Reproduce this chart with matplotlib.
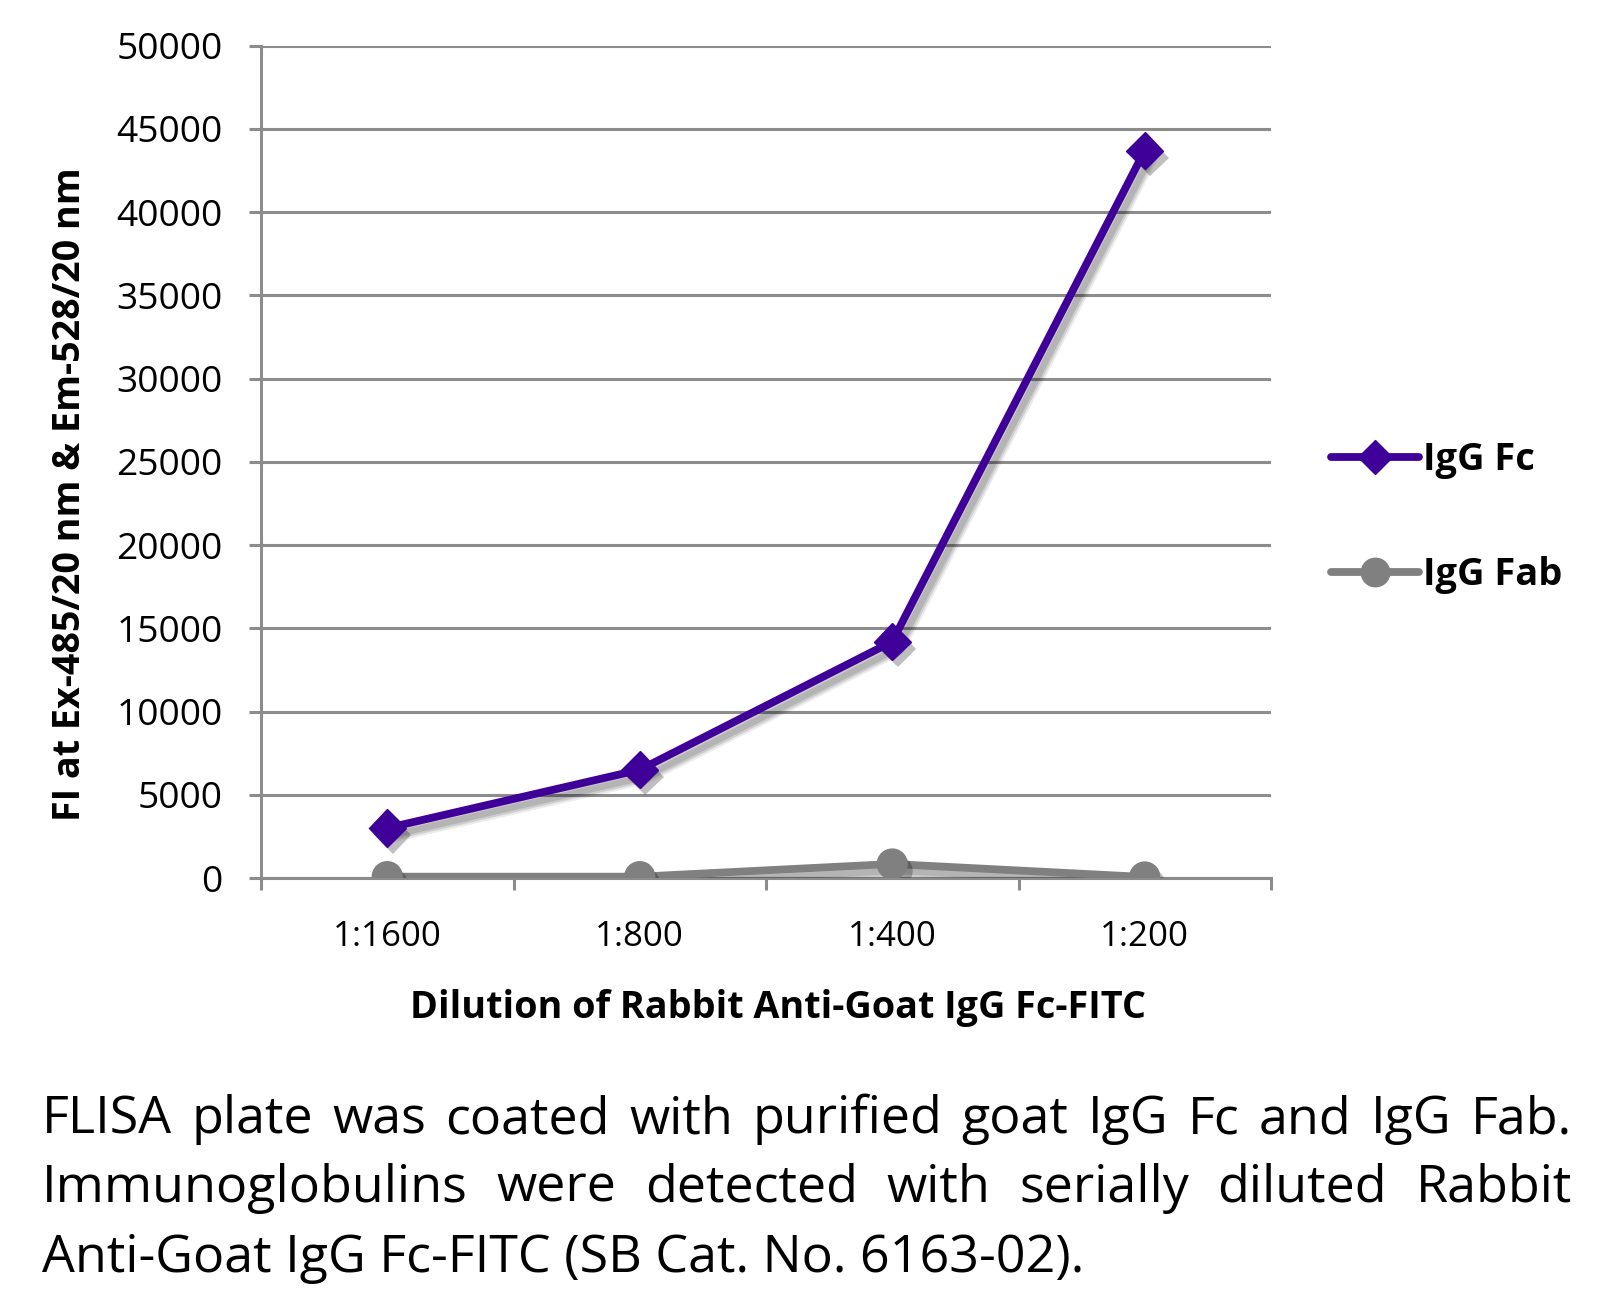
import matplotlib
matplotlib.use('Agg')
import matplotlib.pyplot as plt
import matplotlib.patheffects as pe

# ---------------- data ----------------
categories = ['1:1600', '1:800', '1:400', '1:200']
igg_fc = [3000, 6500, 14200, 43700]
igg_fab = [80, 80, 840, 60]
series_names = ['IgG Fc', 'IgG Fab']
y_ticks = [0, 5000, 10000, 15000, 20000, 25000, 30000, 35000, 40000, 45000, 50000]
x_label = 'Dilution of Rabbit Anti-Goat IgG Fc-FITC'
y_label = 'FI at Ex-485/20 nm & Em-528/20 nm'
caption_lines = [
    'FLISA plate was coated with purified goat IgG Fc and IgG Fab.',
    'Immunoglobulins were detected with serially diluted Rabbit',
    'Anti-Goat IgG Fc-FITC (SB Cat. No. 6163-02).',
]

# ---------------- style ----------------
W, H = 1609, 1306
DPI = 100
FONT = 'Open Sans'
PURPLE = '#3f0099'
GRAY = '#808080'
GRID = '#8c8c8c'

fig = plt.figure(figsize=(W / DPI, H / DPI), dpi=DPI)
renderer = fig.canvas.get_renderer()


def fx(px):
    return px / W


def fy(py):
    return 1 - py / H


def text_width(s, size, weight='normal'):
    t = fig.text(0, 0, s, fontsize=size, family=FONT, weight=weight)
    w = t.get_window_extent(renderer).width
    t.remove()
    return w


def fit_size(s, target, weight='normal'):
    base = 20.0
    return base * target / text_width(s, base, weight)


# axes
x0, x1, ytop, ybot = 261, 1271, 45.7, 878
ax = fig.add_axes([fx(x0), fy(ybot), (x1 - x0) / W, (ybot - ytop) / H])
ax.set_xlim(-0.5, len(categories) - 0.5)
ax.set_ylim(y_ticks[0], y_ticks[-1])
ax.set_facecolor('white')

for s in ['top', 'right']:
    ax.spines[s].set_visible(False)
for s in ['left', 'bottom']:
    ax.spines[s].set_color(GRID)
    ax.spines[s].set_linewidth(2.2)

ax.set_yticks(y_ticks)
ax.yaxis.grid(True, color=GRID, linewidth=2.2)
ax.set_axisbelow(True)

tick_size = fit_size('50000', 106)
ax.set_yticklabels([str(v) for v in y_ticks], fontsize=tick_size, family=FONT)
ax.tick_params(axis='y', direction='out', length=8.5, width=2.2, color=GRID, pad=19)

xs = list(range(len(categories)))
ax.set_xticks([i - 0.5 for i in range(len(categories) + 1)])
ax.set_xticklabels([''] * (len(categories) + 1))
ax.tick_params(axis='x', which='major', direction='out', length=8.5, width=2.2, color=GRID)
ax.set_xticks(xs, minor=True)
cat_size = fit_size('1:1600', 109)
ax.set_xticklabels(categories, minor=True, fontsize=cat_size, family=FONT)
ax.tick_params(axis='x', which='minor', length=0, pad=30)

LW = 5.6
MS_D = 19
MS_O = 21.5


def shadow_line():
    return [pe.SimpleLineShadow(offset=(4, -5), shadow_color='black', alpha=0.08, linewidth=LW + 5),
            pe.SimpleLineShadow(offset=(4, -5), shadow_color='black', alpha=0.12, linewidth=LW + 2),
            pe.SimpleLineShadow(offset=(4, -5), shadow_color='black', alpha=0.12, linewidth=LW - 1),
            pe.Normal()]


def shadow_patch():
    return [pe.SimplePatchShadow(offset=(4, -5), shadow_rgbFace='black', alpha=0.25),
            pe.Normal()]


ax.plot(xs, igg_fab, color=GRAY, linewidth=LW, solid_capstyle='round',
        path_effects=shadow_line(), zorder=3)
ax.plot(xs, igg_fab, linestyle='none', marker='o', markersize=MS_O,
        markerfacecolor=GRAY, markeredgecolor=GRAY, path_effects=shadow_patch(), zorder=4)
ax.plot(xs, igg_fc, color=PURPLE, linewidth=LW, solid_capstyle='round',
        path_effects=shadow_line(), zorder=5)
ax.plot(xs, igg_fc, linestyle='none', marker='D', markersize=MS_D,
        markerfacecolor=PURPLE, markeredgecolor=PURPLE, path_effects=shadow_patch(), zorder=6)

# legend (proxy handles)
leg_size = fit_size('IgG Fc', 112, 'bold')
h_fc = plt.Line2D([], [], color=PURPLE, lw=LW, marker='D', ms=MS_D - 2, solid_capstyle='round')
h_fab = plt.Line2D([], [], color=GRAY, lw=LW, marker='o', ms=MS_O - 1, solid_capstyle='round')
fs_px = leg_size * DPI / 72
leg = fig.legend([h_fc, h_fab], series_names, loc='upper left',
                 bbox_to_anchor=(fx(1331), fy(441)), frameon=False,
                 prop={'family': FONT, 'weight': 'bold', 'size': leg_size},
                 handlelength=88 / fs_px, handletextpad=4 / fs_px,
                 labelspacing=2.03, borderpad=0, borderaxespad=0)

# axis labels
xl_size = fit_size(x_label, 736, 'bold')
fig.text(fx(778), fy(1018), x_label, fontsize=xl_size, family=FONT, weight='bold',
         ha='center', va='baseline')
yl_size = fit_size(y_label, 654, 'bold')
fig.text(fx(70), fy(494), y_label, fontsize=yl_size, family=FONT, weight='bold',
         ha='center', va='center', rotation=90)

# caption (justified first two lines)
cap_left, cap_right = 42, 1572
cap_size = fit_size(caption_lines[2], 1085 - cap_left)
baselines = [1133, 1202, 1272]
for i, line in enumerate(caption_lines):
    if i < 2:
        words = line.split(' ')
        widths = [text_width(w, cap_size) for w in words]
        gap = (cap_right - cap_left - sum(widths)) / (len(words) - 1)
        xpos = cap_left
        for w, wd in zip(words, widths):
            fig.text(fx(xpos), fy(baselines[i]), w, fontsize=cap_size, family=FONT,
                     ha='left', va='baseline')
            xpos += wd + gap
    else:
        fig.text(fx(cap_left), fy(baselines[i]), line, fontsize=cap_size, family=FONT,
                 ha='left', va='baseline')

fig.savefig('out.png', dpi=DPI, facecolor='white')
